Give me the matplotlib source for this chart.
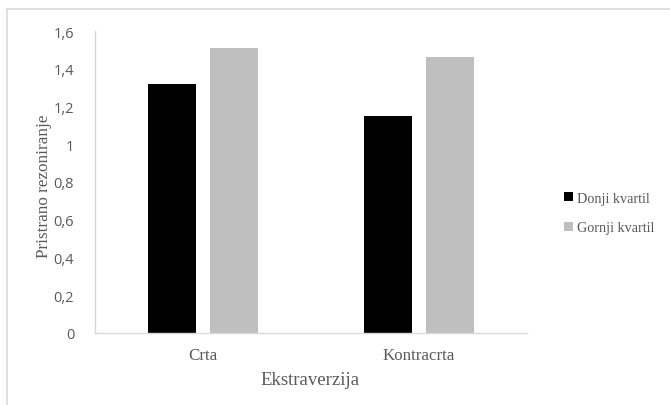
import matplotlib
matplotlib.use("Agg")
import matplotlib.pyplot as plt
import numpy as np
from matplotlib.lines import Line2D
from matplotlib.ticker import FuncFormatter

categories = ["Crta", "Kontracrta"]
series_names = ["Donji kvartil", "Gornji kvartil"]
donji = [1.32, 1.15]
gornji = [1.51, 1.46]
yticks = [0, 0.2, 0.4, 0.6, 0.8, 1.0, 1.2, 1.4, 1.6]

SERIF = "Liberation Serif"
TICK_FONT = "Open Sans"
GRID_GRAY = "#d9d9d9"
TEXT_GRAY = "#595959"

fig = plt.figure(figsize=(6.7, 4.06), dpi=100)
W, H = 670, 406

# outer chart frame (runs off the right and bottom edge)
fig.add_artist(Line2D([7 / W, 7 / W], [0, 1 - 10 / H], color=GRID_GRAY, lw=1.2,
                      transform=fig.transFigure))
fig.add_artist(Line2D([7 / W, 1], [1 - 10 / H, 1 - 10 / H], color=GRID_GRAY, lw=1.2,
                      transform=fig.transFigure))

ax = fig.add_axes([95 / W, (H - 334) / H, 432 / W, 302 / H])

x = np.arange(len(categories))
width = 0.222
offset = 0.1435
bars_d = ax.bar(x - offset, donji, width, color="#000000", label=series_names[0])
bars_g = ax.bar(x + offset, gornji, width, color="#bfbfbf", label=series_names[1])

ax.set_xlim(-0.5, 1.5)
ax.set_ylim(0, 1.6)
ax.set_yticks(yticks)
ax.yaxis.set_major_formatter(FuncFormatter(lambda v, _: f"{v:g}".replace(".", ",")))
ax.set_xticks(x)
ax.set_xticklabels(categories, family=SERIF, fontsize=12.2, color=TEXT_GRAY)

for lbl in ax.get_yticklabels():
    lbl.set_family(TICK_FONT)
    lbl.set_fontsize(10.5)
    lbl.set_color(TEXT_GRAY)

ax.tick_params(axis="both", length=0)
ax.tick_params(axis="y", pad=15)
ax.tick_params(axis="x", pad=10)

for side in ["top", "right"]:
    ax.spines[side].set_visible(False)
for side in ["left", "bottom"]:
    ax.spines[side].set_color(GRID_GRAY)
    ax.spines[side].set_linewidth(1.0)

fig.text(310 / W, 1 - 381 / H, "Ekstraverzija", family=SERIF, fontsize=13.5,
         color=TEXT_GRAY, ha="center", va="center")
fig.text(44 / W, 1 - 186 / H, "Pristrano rezoniranje", family=SERIF, fontsize=12.3,
         color=TEXT_GRAY, ha="center", va="center", rotation=90)

leg = fig.legend(handles=[bars_d, bars_g], loc="center left",
                 bbox_to_anchor=(551 / W, 1 - 214 / H), frameon=False,
                 handlelength=0.62, handleheight=0.62, handletextpad=0.35,
                 labelspacing=1.15, prop={"family": SERIF, "size": 10.2})
for t in leg.get_texts():
    t.set_color(TEXT_GRAY)

fig.savefig("out.png", dpi=100)
